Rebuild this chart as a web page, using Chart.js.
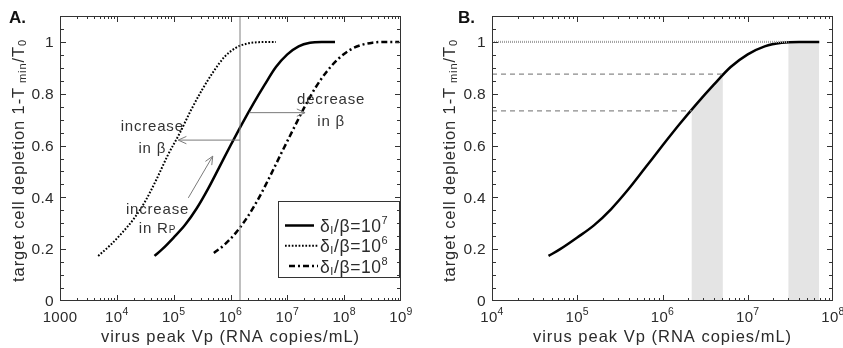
<!DOCTYPE html>
<html><head><meta charset="utf-8">
<script src="https://cdn.jsdelivr.net/npm/chart.js@4.4.1/dist/chart.umd.min.js"></script>
<style>
html,body{margin:0;padding:0;background:#fff;}
#wrap{position:relative;width:843px;height:348px;overflow:hidden;background:#fff;}
canvas{position:absolute;top:0;}
</style></head><body>
<div id="wrap">
<canvas id="cA" width="421" height="348" style="left:0px;width:421px;height:348px"></canvas>
<canvas id="cB" width="422" height="348" style="left:421px;width:422px;height:348px"></canvas>
</div>
<script>
// ---------- data ----------
const vpSolid   = [4.6e4, 6.3e4, 1e5, 1.58e5, 2.5e5, 4e5, 6.3e5, 1e6, 1.58e6, 2.5e6, 4e6, 6.3e6, 1e7, 1.58e7, 2.5e7, 4e7, 6.9e7];
const depSolid  = [0.174, 0.200, 0.245, 0.293, 0.355, 0.432, 0.515, 0.600, 0.682, 0.760, 0.835, 0.903, 0.952, 0.983, 0.997, 1.000, 1.000];
const vpDotted  = [4.7e3, 7.9e3, 1.26e4, 2e4, 3.16e4, 5e4, 7.9e4, 1.26e5, 2e5, 3.16e5, 5e5, 7.9e5, 1.26e6, 2e6, 3.16e6, 6.3e6];
const depDotted = [0.174, 0.218, 0.265, 0.318, 0.385, 0.470, 0.563, 0.645, 0.735, 0.815, 0.885, 0.943, 0.978, 0.994, 0.999, 1.000];
const vpDashDot = [5.1e5, 7.9e5, 1.26e6, 2e6, 3.16e6, 5e6, 7.9e6, 1.26e7, 2e7, 3.16e7, 5e7, 7.9e7, 1.26e8, 2e8, 3.16e8, 5e8, 9.3e8];
const depDashDot= [0.185, 0.218, 0.265, 0.325, 0.398, 0.483, 0.572, 0.661, 0.748, 0.825, 0.887, 0.935, 0.969, 0.988, 0.997, 1.000, 1.000];
const seriesLabels = ["δ_{I}/β=10^{7}", "δ_{I}/β=10^{6}", "δ_{I}/β=10^{8}"];

const xTicksA = [1e3, 1e4, 1e5, 1e6, 1e7, 1e8, 1e9];
const xTickLabelsA = ["1000", "10^{4}", "10^{5}", "10^{6}", "10^{7}", "10^{8}", "10^{9}"];
const xTicksB = [1e4, 1e5, 1e6, 1e7, 1e8];
const xTickLabelsB = ["10^{4}", "10^{5}", "10^{6}", "10^{7}", "10^{8}"];
const yTicks = [0, 0.2, 0.4, 0.6, 0.8, 1];
const yTickLabels = ["0", "0.2", "0.4", "0.6", "0.8", "1"];
const minorMultipliers = [2, 3, 4, 5, 6, 7, 8, 9];
const yMin = 0, yMax = 1.1, yMinorStep = 0.05;

const refVp = 1.47e6;                 // vertical reference line, panel A
const levelValues = [1.0, 0.876, 0.734];  // horizontal guide levels, panel B
const levelEnds   = [3.0e7, 5.1e6, 2.2e6];
const shadeStarts = [2.2e6, 3.0e7];
const shadeEnds   = [5.1e6, 6.9e7];

const xTitle = "virus peak Vp (RNA copies/mL)";
const yTitle = "target cell depletion 1-T_{ min}/T_{0}";

// annotation anchors (data coordinates), panel A
const arrowsA = [
  {from: [1.47e6, 0.621], to: [1.2e5, 0.621]},
  {from: [2.14e6, 0.727], to: [2.05e7, 0.727]},
  {from: [1.81e5, 0.398], to: [4.87e5, 0.559]}
];
const notesA = [
  {text: "increase", x: 4.2e4, y: 0.671},
  {text: "in β", x: 4.2e4, y: 0.589},
  {text: "decrease", x: 5.9e7, y: 0.775},
  {text: "in β", x: 5.9e7, y: 0.691},
  {text: "increase", x: 5.2e4, y: 0.353},
  {text: "in R_{P}", x: 5.2e4, y: 0.279}
];

// ---------- helpers ----------
const FONT = '"Liberation Sans", Arial, Helvetica, sans-serif';
const TXT = '#2b2b2b';
const zip = (xs, ys) => xs.map((v, i) => ({x: v, y: ys[i]}));

function parseRich(s) {
  const out = []; let buf = ''; let i = 0;
  while (i < s.length) {
    const c = s[i];
    if ((c === '_' || c === '^') && s[i + 1] === '{') {
      if (buf) { out.push({t: buf, k: 'n'}); buf = ''; }
      const j = s.indexOf('}', i);
      out.push({t: s.slice(i + 2, j), k: c === '_' ? 'sub' : 'sup'});
      i = j + 1;
    } else { buf += c; i++; }
  }
  if (buf) out.push({t: buf, k: 'n'});
  return out;
}
function drawRich(ctx, s, x, y, o) {
  const segs = parseRich(s);
  const fontFor = k => (o.weight || '') + ' ' + (k === 'n' ? o.size : o.small) + 'px ' + FONT;
  ctx.save();
  try { ctx.letterSpacing = (o.ls || 0) + 'px'; } catch (e) {}
  const ws = []; let w = 0;
  for (const g of segs) { ctx.font = fontFor(g.k); const m = ctx.measureText(g.t).width; ws.push(m); w += m; }
  let cx = o.align === 'center' ? x - w / 2 : o.align === 'right' ? x - w : x;
  ctx.fillStyle = o.color || TXT;
  ctx.textBaseline = o.baseline || 'alphabetic';
  ctx.textAlign = 'left';
  segs.forEach((g, i) => {
    ctx.font = fontFor(g.k);
    const dy = g.k === 'sub' ? (o.subDy || 0) : g.k === 'sup' ? (o.supDy || 0) : 0;
    ctx.fillText(g.t, cx, y + dy);
    cx += ws[i];
  });
  ctx.restore();
}

function framePlugin(cfg) {
  return {
    id: 'frame_' + cfg.name,
    beforeDatasetsDraw(chart) {
      if (!cfg.shade) return;
      const {ctx, chartArea: a, scales: {x}} = chart;
      const meta = chart.getDatasetMeta(cfg.shade.dataset);
      const line = meta.dataset;
      const pts = meta.data;
      for (let r = 0; r < cfg.shade.starts.length; r++) {
        const x1 = x.getPixelForValue(cfg.shade.starts[r]);
        const x2 = x.getPixelForValue(cfg.shade.ends[r]);
        ctx.save();
        ctx.beginPath(); ctx.rect(x1, a.top, x2 - x1, a.bottom - a.top); ctx.clip();
        ctx.beginPath();
        let ok = false;
        try { line.updateControlPoints(a, 'x'); line.path(ctx); ok = true; } catch (e) { ok = false; }
        if (!ok) { ctx.beginPath(); pts.forEach((p, i) => i ? ctx.lineTo(p.x, p.y) : ctx.moveTo(p.x, p.y)); }
        ctx.lineTo(pts[pts.length - 1].x, a.bottom);
        ctx.lineTo(pts[0].x, a.bottom);
        ctx.closePath();
        ctx.fillStyle = '#e4e4e4';
        ctx.fill();
        ctx.restore();
      }
    },
    afterDatasetsDraw(chart) {
      const {ctx, scales: {x, y}} = chart;
      if (cfg.arrows) {
        ctx.save();
        ctx.strokeStyle = '#7a7a7a'; ctx.lineWidth = 1;
        for (const ar of cfg.arrows) {
          const x1 = x.getPixelForValue(ar.from[0]), y1 = y.getPixelForValue(ar.from[1]);
          const x2 = x.getPixelForValue(ar.to[0]), y2 = y.getPixelForValue(ar.to[1]);
          ctx.beginPath(); ctx.moveTo(x1, y1); ctx.lineTo(x2, y2); ctx.stroke();
          const ang = Math.atan2(y2 - y1, x2 - x1), L = 9, h = 0.42;
          ctx.beginPath();
          ctx.moveTo(x2 - L * Math.cos(ang - h), y2 - L * Math.sin(ang - h));
          ctx.lineTo(x2, y2);
          ctx.lineTo(x2 - L * Math.cos(ang + h), y2 - L * Math.sin(ang + h));
          ctx.stroke();
        }
        ctx.restore();
      }
      if (cfg.notes) {
        for (const n of cfg.notes) {
          drawRich(ctx, n.text, x.getPixelForValue(n.x), y.getPixelForValue(n.y),
            {size: 15, small: 10, subDy: 2, align: 'center', baseline: 'middle', ls: 0.8, color: '#333'});
        }
      }
    },
    afterDraw(chart) {
      const {ctx, chartArea: a, scales: {x, y}} = chart;
      ctx.save();
      ctx.strokeStyle = '#333'; ctx.lineWidth = 1;
      ctx.strokeRect(Math.round(a.left) + 0.5, Math.round(a.top) + 0.5, Math.round(a.right - a.left) - 1, Math.round(a.bottom - a.top) - 1);
      const seg = (x1, y1, x2, y2) => { ctx.beginPath(); ctx.moveTo(x1, y1); ctx.lineTo(x2, y2); ctx.stroke(); };
      const majors = cfg.xTicks;
      majors.forEach(v => {
        const px = Math.round(x.getPixelForValue(v)) + 0.5;
        if (px > a.left + 1 && px < a.right - 1) {
          seg(px, a.bottom, px, a.bottom - 6); seg(px, a.top, px, a.top + 6);
        }
        minorMultipliers.forEach(m => {
          const mv = v * m;
          if (mv >= x.max) return;
          const q = Math.round(x.getPixelForValue(mv)) + 0.5;
          seg(q, a.bottom, q, a.bottom - 3); seg(q, a.top, q, a.top + 3);
        });
      });
      const nY = Math.round((yMax - yMin) / yMinorStep);
      for (let i = 1; i < nY; i++) {
        const v = yMin + i * yMinorStep;
        const py = Math.round(y.getPixelForValue(v)) + 0.5;
        const len = (i % 4 === 0) ? 6 : 4;
        seg(a.left, py, a.left + len, py); seg(a.right, py, a.right - len, py);
      }
      majors.forEach((v, i) => {
        drawRich(ctx, cfg.xLabels[i], x.getPixelForValue(v), a.bottom + 21,
          {size: 15, small: 10.5, supDy: -7.5, align: 'center', ls: 0.3});
      });
      yTicks.forEach((v, i) => {
        drawRich(ctx, yTickLabels[i], a.left - 6, y.getPixelForValue(v) + 1,
          {size: 15.5, small: 10, align: 'right', baseline: 'middle', ls: 0.3});
      });
      drawRich(ctx, xTitle, (a.left + a.right) / 2, 341.5,
        {size: 16.5, small: 11, align: 'center', ls: 1.0});
      ctx.save();
      ctx.translate(cfg.yTitleX, (a.top + a.bottom) / 2 + 2);
      ctx.rotate(-Math.PI / 2);
      drawRich(ctx, yTitle, 0, 0, {size: 16.5, small: 11, subDy: 1.5, align: 'center', ls: 0.9});
      ctx.restore();
      drawRich(ctx, cfg.letter, cfg.letterX, 22.5, {size: 17, small: 11, weight: 'bold', color: '#111'});
      if (cfg.legend) {
        const L = cfg.legend;
        ctx.strokeStyle = '#333'; ctx.lineWidth = 1;
        ctx.strokeRect(L.x + 0.5, L.y + 0.5, L.w, L.h);
        L.items.forEach((it, k) => {
          const ds = chart.data.datasets[it.dataset];
          const cy = L.y + 24.5 + k * 20.3;
          ctx.save();
          ctx.strokeStyle = ds.borderColor; ctx.lineWidth = ds.borderWidth;
          ctx.setLineDash(ds.borderDash || []);
          seg(L.x + it.x0, cy, L.x + it.x1, cy);
          ctx.restore();
          drawRich(ctx, ds.label, L.x + 42, cy + 6.5,
            {size: 17.5, small: 11, subDy: 2, supDy: -8, align: 'left', ls: 0.6});
        });
      }
      ctx.restore();
    }
  };
}

const commonLine = {pointRadius: 0, fill: false, tension: 0};
const curveLine = {pointRadius: 0, fill: false, cubicInterpolationMode: 'monotone', borderColor: '#000', borderCapStyle: 'butt'};

function makeOptions(xmin, xmax, pad) {
  return {
    responsive: false, animation: false, devicePixelRatio: 1, events: [],
    layout: {padding: pad},
    plugins: {legend: {display: false}, tooltip: {enabled: false}, title: {display: false}},
    scales: {
      x: {type: 'logarithmic', min: xmin, max: xmax, display: false},
      y: {type: 'linear', min: yMin, max: yMax, display: false}
    }
  };
}

// ---------- Panel A ----------
new Chart(document.getElementById('cA'), {
  type: 'line',
  data: {
    datasets: [
      Object.assign({label: 'reference', data: [{x: refVp, y: yMin}, {x: refVp, y: yMax}], borderColor: '#808080', borderWidth: 1}, commonLine),
      Object.assign({label: seriesLabels[1], data: zip(vpDotted, depDotted), borderWidth: 2, borderDash: [1.7, 1.7]}, curveLine),
      Object.assign({label: seriesLabels[0], data: zip(vpSolid, depSolid), borderWidth: 2.5}, curveLine),
      Object.assign({label: seriesLabels[2], data: zip(vpDashDot, depDashDot), borderWidth: 2.5, borderDash: [6, 3, 2, 3]}, curveLine)
    ]
  },
  options: makeOptions(xTicksA[0], xTicksA[xTicksA.length - 1], {left: 60, right: 20, top: 16, bottom: 47}),
  plugins: [framePlugin({
    name: 'A', xTicks: xTicksA, xLabels: xTickLabelsA, yTitleX: 24, letter: 'A.', letterX: 9,
    arrows: arrowsA, notes: notesA,
    legend: {x: 278, y: 201, w: 121, h: 76, items: [
      {dataset: 2, x0: 7, x1: 36}, {dataset: 1, x0: 7, x1: 41}, {dataset: 3, x0: 11, x1: 40}
    ]}
  })]
});

// ---------- Panel B ----------
const dsB = levelValues.map((lv, i) => Object.assign({
  label: 'level ' + lv,
  data: [{x: xTicksB[0], y: lv}, {x: levelEnds[i], y: lv}],
  borderColor: i === 0 ? '#a4a4a4' : '#8a8a8a',
  borderWidth: i === 0 ? 2.2 : 1.2,
  borderDash: i === 0 ? [1, 1] : [5, 4]
}, commonLine));
dsB.push(Object.assign({label: seriesLabels[0], data: zip(vpSolid, depSolid), borderWidth: 2.5}, curveLine));

new Chart(document.getElementById('cB'), {
  type: 'line',
  data: {datasets: dsB},
  options: makeOptions(xTicksB[0], xTicksB[xTicksB.length - 1], {left: 71, right: 10, top: 16, bottom: 47}),
  plugins: [framePlugin({
    name: 'B', xTicks: xTicksB, xLabels: xTickLabelsB, yTitleX: 34, letter: 'B.', letterX: 37,
    shade: {dataset: dsB.length - 1, starts: shadeStarts, ends: shadeEnds}
  })]
});
</script>
</body></html>
